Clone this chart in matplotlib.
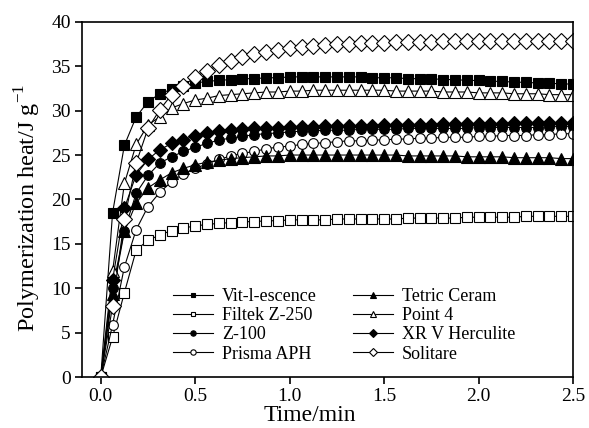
import matplotlib
matplotlib.use('Agg')
import matplotlib.pyplot as plt
import numpy as np

plt.rcParams['font.family'] = ['Liberation Serif', 'DejaVu Serif']
plt.rcParams['mathtext.fontset'] = 'custom'
plt.rcParams['mathtext.rm'] = 'Liberation Serif'

# time grid (min), one sample every 0.0625 min
time = np.linspace(0, 2.5, 41)

vit = [0, 18.5, 26.1, 29.3, 31.0, 31.9, 32.4, 32.8, 33.1, 33.3, 33.4, 33.5, 33.6, 33.6,
       33.7, 33.7, 33.8, 33.8, 33.8, 33.8, 33.8, 33.8, 33.8, 33.7, 33.7, 33.7, 33.6, 33.6,
       33.6, 33.5, 33.5, 33.4, 33.4, 33.3, 33.3, 33.2, 33.2, 33.1, 33.1, 33.0, 33.0]
filtek = [0, 4.5, 9.5, 14.3, 15.4, 16.0, 16.5, 16.8, 17.0, 17.2, 17.3, 17.4, 17.5, 17.5,
          17.6, 17.6, 17.7, 17.7, 17.7, 17.7, 17.8, 17.8, 17.8, 17.8, 17.8, 17.8, 17.9, 17.9,
          17.9, 17.9, 17.9, 18.0, 18.0, 18.0, 18.0, 18.0, 18.1, 18.1, 18.1, 18.1, 18.1]
z100 = [0, 10.0, 16.5, 20.7, 22.7, 24.1, 24.8, 25.4, 25.9, 26.3, 26.7, 26.9, 27.1, 27.3,
        27.4, 27.5, 27.6, 27.7, 27.7, 27.8, 27.8, 27.8, 27.9, 27.9, 27.9, 27.9, 28.0, 28.0,
        28.0, 28.0, 28.0, 28.0, 28.1, 28.1, 28.1, 28.1, 28.1, 28.1, 28.2, 28.2, 28.2]
prisma = [0, 5.9, 12.4, 16.6, 19.2, 20.8, 22.0, 22.9, 23.5, 24.0, 24.5, 24.9, 25.2, 25.4,
          25.7, 25.9, 26.0, 26.2, 26.3, 26.4, 26.5, 26.6, 26.6, 26.7, 26.7, 26.8, 26.8, 26.9,
          26.9, 27.0, 27.0, 27.0, 27.1, 27.1, 27.2, 27.2, 27.2, 27.3, 27.3, 27.4, 27.4]
tetric = [0, 9.3, 16.4, 19.6, 21.3, 22.2, 23.0, 23.5, 23.9, 24.2, 24.4, 24.6, 24.7, 24.8,
          24.9, 24.9, 25.0, 25.0, 25.0, 25.0, 25.0, 25.0, 25.0, 25.0, 25.0, 25.0, 24.9, 24.9,
          24.9, 24.9, 24.9, 24.8, 24.8, 24.8, 24.8, 24.7, 24.7, 24.7, 24.7, 24.6, 24.6]
point4 = [0, 11.9, 21.8, 26.2, 28.4, 29.3, 30.3, 30.8, 31.2, 31.4, 31.7, 31.8, 31.9, 32.0,
          32.1, 32.1, 32.2, 32.2, 32.3, 32.3, 32.3, 32.3, 32.3, 32.3, 32.3, 32.2, 32.2, 32.2,
          32.2, 32.1, 32.1, 32.1, 32.0, 32.0, 32.0, 31.9, 31.9, 31.9, 31.8, 31.8, 31.8]
xrv = [0, 10.9, 19.0, 22.8, 24.5, 25.6, 26.3, 26.7, 27.2, 27.5, 27.7, 27.8, 27.9, 28.0,
       28.1, 28.1, 28.2, 28.2, 28.2, 28.3, 28.3, 28.3, 28.3, 28.3, 28.4, 28.4, 28.4, 28.4,
       28.4, 28.5, 28.5, 28.5, 28.5, 28.5, 28.5, 28.6, 28.6, 28.6, 28.6, 28.6, 28.6]
solitare = [0, 8.0, 17.8, 24.1, 28.0, 30.1, 31.8, 32.8, 33.8, 34.5, 35.1, 35.6, 36.0, 36.4,
            36.6, 36.8, 37.0, 37.2, 37.3, 37.4, 37.5, 37.5, 37.6, 37.6, 37.6, 37.7, 37.7, 37.7,
            37.7, 37.8, 37.8, 37.8, 37.8, 37.8, 37.8, 37.8, 37.8, 37.8, 37.8, 37.8, 37.8]

names = ['Vit-l-escence', 'Filtek Z-250', 'Z-100', 'Prisma APH',
         'Tetric Ceram', 'Point 4', 'XR V Herculite', 'Solitare']
series = [vit, filtek, z100, prisma, tetric, point4, xrv, solitare]
markers = ['s', 's', 'o', 'o', '^', '^', 'D', 'D']
filled = [True, False, True, False, True, False, True, False]
sizes = [6.5, 6.5, 7, 7, 8, 8, 7.5, 8]

fig = plt.figure(figsize=(5.89, 4.28), dpi=100)
ax = fig.add_axes([0.139, 0.119, 0.834, 0.830])

for name, y, m, f, s in zip(names, series, markers, filled, sizes):
    ax.plot(time, y, color='black', lw=0.8, marker=m, ms=s, mew=0.8,
            mec='black', mfc='black' if f else 'white', label=name)

ax.set_xlim(-0.1, 2.5)
ax.set_ylim(0, 40)
ax.set_xticks([0.0, 0.5, 1.0, 1.5, 2.0, 2.5])
ax.set_xticklabels(['0.0', '0.5', '1.0', '1.5', '2.0', '2.5'])
ax.set_yticks(range(0, 41, 5))
ax.tick_params(direction='out', length=5, width=1.2, labelsize=14, pad=3)
for sp in ax.spines.values():
    sp.set_linewidth(1.2)

ax.set_xlabel('Time/min', fontsize=17, labelpad=1)
ax.set_ylabel(r'Polymerization heat/J g$^{-1}$', fontsize=17.5, labelpad=4)
ax.xaxis.set_label_coords(0.465, -0.078)
ax.yaxis.set_label_coords(-0.08, 0.475)

ax.legend(ncol=2, loc='lower left', bbox_to_anchor=(0.16, 0.005), frameon=False,
          fontsize=13, markerscale=0.55, handlelength=2.2, handletextpad=0.5,
          labelspacing=0.12, columnspacing=2.0, borderpad=0.2)

fig.savefig('out.png', dpi=100)
